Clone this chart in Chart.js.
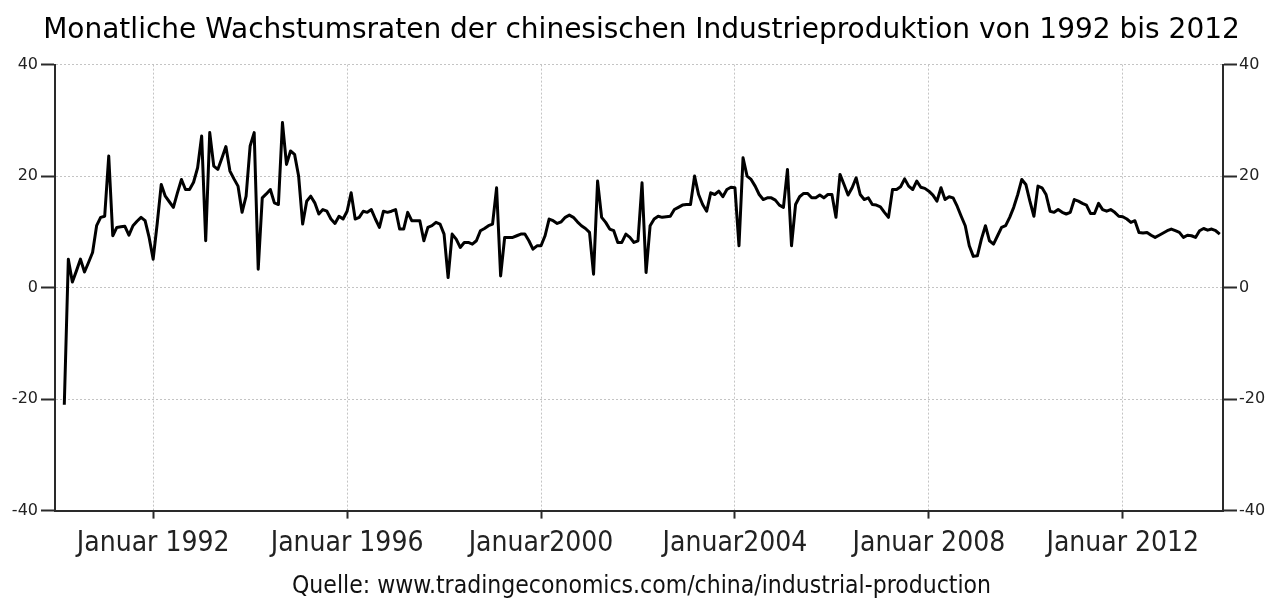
<!DOCTYPE html>
<html>
<head>
<meta charset="utf-8">
<script src="https://cdn.jsdelivr.net/npm/chart.js@4/dist/chart.umd.min.js"></script>
<style>
  body { margin: 0; background: #fff; }
</style>
</head>
<body>
<canvas id="myChart" width="1283" height="602"></canvas>
<script>
// month index 0 = Januar 1990, first value is März 1990
var firstMonth = 2;

// Wachstum ggü. Vorjahr in %, monatlich
var growth1990s = [
    -21, 5.1, 1.0, 3.0, 5.1, 2.8, 4.5, 6.3, 11.1, 12.6,
    12.8, 23.6, 9.3, 10.8, 10.9, 11.0, 9.4, 11.1, 11.9, 12.6, 12.0, 9.0,
    5.1, 11.5, 18.5, 16.4, 15.4, 14.4, 17.0, 19.4, 17.6, 17.6, 18.9, 21.5,
    27.2, 8.4, 27.8, 21.8, 21.2, 23.2, 25.3, 20.9, 19.5, 18.2, 13.5, 16.4,
    25.4, 27.8, 3.3, 16.1, 16.8, 17.6, 15.2, 14.9, 29.6, 22.1, 24.5, 23.9,
    20.0, 11.4, 15.5, 16.4, 15.2, 13.2, 14.0, 13.7, 12.3, 11.5, 12.8, 12.3,
    13.7, 17.0, 12.3, 12.6, 13.7, 13.5, 14.0, 12.3, 10.8, 13.7, 13.5, 13.7,
    14.0, 10.5, 10.5, 13.5, 12.0, 12.0, 12.0, 8.4, 10.8, 11.1, 11.7, 11.4,
    9.6, 1.8, 9.6, 8.7, 7.2, 8.1, 8.1, 7.8, 8.4, 10.2, 10.6, 11.1,
    11.4, 17.9, 2.1, 9.0, 9.0, 9.0, 9.3, 9.6, 9.6, 8.4, 6.9, 7.5
];
var growth2000s = [
    7.5, 9.3, 12.3, 12.0, 11.5, 11.8, 12.6, 13.0, 12.6, 11.8, 11.1, 10.6,
    9.9, 2.4, 19.1, 12.6, 11.7, 10.5, 10.2, 8.1, 8.1, 9.6, 9.0, 8.1,
    8.4, 18.8, 2.7, 11.1, 12.3, 12.8, 12.6, 12.7, 12.8, 14.0, 14.4, 14.8,
    14.9, 14.9, 20.0, 16.7, 14.9, 13.7, 17.0, 16.7, 17.3, 16.3, 17.6, 18.0,
    17.9, 7.5, 23.3, 20.0, 19.4, 18.2, 16.7, 15.8, 16.1, 16.1, 15.7, 14.8,
    14.4, 21.2, 7.5, 14.9, 16.3, 16.9, 16.9, 16.1, 16.1, 16.6, 16.1, 16.7,
    16.7, 12.6, 20.3, 18.5, 16.6, 17.9, 19.7, 16.7, 15.8, 16.1, 14.9, 14.8,
    14.5, 13.5, 12.6, 17.6, 17.6, 18.1, 19.5, 18.2, 17.6, 19.1, 18.0, 17.8,
    17.3, 16.6, 15.5, 17.9, 15.8, 16.3, 16.1, 14.6, 12.8, 11.1, 7.5, 5.6,
    5.7, 8.7, 11.1, 8.4, 7.8, 9.3, 10.8, 11.1, 12.6, 14.4, 16.7, 19.4
];
var growth2010s = [
    18.5, 15.5, 12.8, 18.2, 17.9, 16.7, 13.7, 13.5, 14.0, 13.5, 13.2, 13.5,
    15.8, 15.5, 15.1, 14.8, 13.3, 13.3, 15.1, 14.0, 13.7, 14.0, 13.5, 12.8,
    12.7, 12.3, 11.7, 12.0, 9.9, 9.8, 9.9, 9.4, 9.0, 9.4, 9.8, 10.2,
    10.5, 10.2, 9.9, 9.0, 9.4, 9.3, 9.0, 10.2, 10.6, 10.3, 10.5, 10.2,
    9.6
];

var xTickMonths = [24, 72, 120, 168, 216, 264];
var xTickLabels = ['Januar 1992', 'Januar 1996', 'Januar2000', 'Januar2004', 'Januar 2008', 'Januar 2012'];
var yTicks = [-40, -20, 0, 20, 40];

var titleText = 'Monatliche Wachstumsraten der chinesischen Industrieproduktion von 1992 bis 2012';
var sourceText = 'Quelle: www.tradingeconomics.com/china/industrial-production';

var allValues = growth1990s.concat(growth2000s, growth2010s);
var points = allValues.map(function (v, i) {
    return { x: firstMonth + i, y: v };
});

var gridColor = '#c4c4c4';
var axisColor = '#2a2a2a';

function fixedTicks(values) {
    return function (scale) {
        scale.ticks = values.map(function (v) { return { value: v }; });
    };
}

new Chart('myChart', {
    type: 'line',
    data: {
        datasets: [{
            data: points,
            borderColor: '#000',
            borderWidth: 3,
            pointRadius: 0,
            tension: 0,
            borderJoinStyle: 'round',
            fill: false
        }]
    },
    options: {
        responsive: false,
        animation: false,
        events: [],
        layout: { padding: { left: 0, right: 0, top: 0, bottom: 1 } },
        plugins: {
            legend: { display: false },
            tooltip: { enabled: false },
            title: {
                display: true,
                text: titleText,
                color: '#000',
                font: { family: 'DejaVu Sans', size: 28, weight: 'normal' },
                padding: { top: 14, bottom: 17 }
            },
            subtitle: {
                display: true,
                position: 'bottom',
                text: sourceText,
                color: '#111',
                font: { family: 'DejaVu Sans Condensed', size: 24.5, weight: 'normal' },
                padding: { top: 0, bottom: 0 }
            }
        },
        scales: {
            x: {
                type: 'linear',
                min: -0.3,
                max: 288.8,
                afterBuildTicks: fixedTicks(xTickMonths),
                afterFit: function (scale) { scale.height = 61; },
                ticks: {
                    autoSkip: false,
                    maxRotation: 0,
                    padding: 8,
                    color: '#222',
                    font: { family: 'DejaVu Sans Condensed', size: 28 },
                    callback: function (v) { return xTickLabels[xTickMonths.indexOf(v)]; }
                },
                grid: {
                    color: gridColor,
                    lineWidth: 1,
                    tickLength: 8,
                    tickColor: axisColor,
                    tickWidth: 2,
                    tickBorderDash: []
                },
                border: { display: true, color: axisColor, width: 2, dash: [2, 2] }
            },
            y: {
                position: 'left',
                min: -40,
                max: 40,
                afterBuildTicks: fixedTicks(yTicks),
                afterFit: function (scale) { scale.width = 55; },
                ticks: {
                    padding: 3,
                    color: '#222',
                    font: { family: 'DejaVu Sans', size: 16 }
                },
                grid: {
                    color: gridColor,
                    lineWidth: 1,
                    tickLength: 14,
                    tickColor: axisColor,
                    tickWidth: 2,
                    tickBorderDash: []
                },
                border: { display: true, color: axisColor, width: 2, dash: [2, 2] }
            },
            y2: {
                position: 'right',
                min: -40,
                max: 40,
                afterBuildTicks: fixedTicks(yTicks),
                afterFit: function (scale) { scale.width = 60; },
                ticks: {
                    padding: 2,
                    color: '#222',
                    font: { family: 'DejaVu Sans', size: 16 }
                },
                grid: {
                    drawOnChartArea: false,
                    tickLength: 14,
                    tickColor: axisColor,
                    tickWidth: 2
                },
                border: { display: true, color: axisColor, width: 2 }
            }
        }
    }
});
</script>
</body>
</html>
